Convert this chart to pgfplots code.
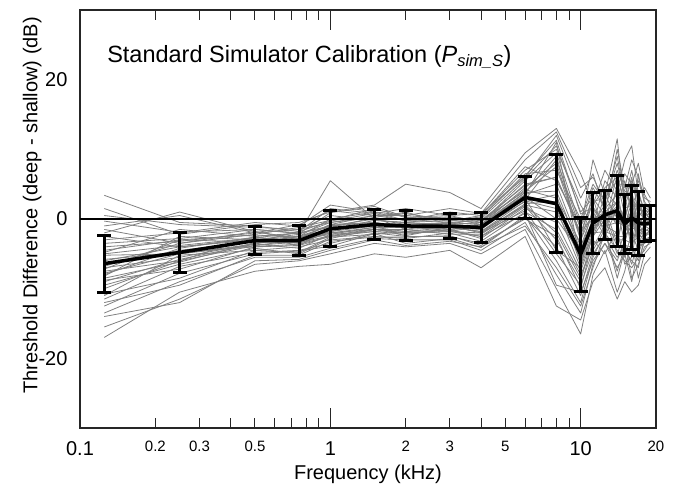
\documentclass[border=0pt]{standalone}
\usepackage{fontspec}
\setmainfont{Liberation Sans}
\usepackage{pgfplots}
\pgfplotsset{compat=1.18}
\usepackage{pgfplotstable}

\pgfplotstableread{
f m sd
0.125 -6.4 4.1
0.25 -4.8 2.9
0.5 -3.1 2.05
0.75 -3.1 2.1
1 -1.4 2.55
1.5 -0.8 2.15
2 -1.0 2.15
3 -1.05 1.8
4 -1.2 2.2
6 3.1 3.05
8 2.2 7.0
10 -5.1 5.3
11.2 -0.6 4.4
12.5 0.6 3.5
14 1.2 5.1
15 -0.7 4.2
16 0.2 4.6
17 -0.6 4.6
18 -0.7 2.6
19 -0.6 2.5
}\meandata

\begin{document}
\begin{tikzpicture}[font=\fontsize{20}{24}\selectfont]
\begin{axis}[
  scale only axis, width=576pt, height=418pt,
  xmode=log, xmin=0.1, xmax=20, ymin=-30, ymax=30,
  axis line style={line width=1.2pt, black!85},
  tick align=inside,
  major tick length=20pt, minor tick length=10pt,
  every tick/.style={line width=1pt, black!85},
  /pgf/number format/assume math mode=true,
  xtick={0.1,1,10}, xticklabels={0.1,1,10},
  xticklabel style={yshift=-10pt},
  minor xtick={0.2,0.3,0.4,0.5,0.6,0.7,0.8,0.9,2,3,4,5,6,7,8,9,20},
  extra x ticks={0.2,0.3,0.5,2,3,5,20},
  extra x tick labels={0.2,0.3,0.5,2,3,5,20},
  extra x tick style={major tick length=0pt, tick label style={font=\fontsize{15}{18}\selectfont}},
  ytick={-20,0,20}, yticklabels={-20,0,20},
  yticklabel style={xshift=-9pt},
  ytick style={draw=none},
  minor ytick={-20,-10,0,10,20},
  xlabel={Frequency (kHz)},
  xlabel style={at={(axis description cs:0.5,-0.110)}, anchor=center},
  ylabel={Threshold Difference (deep - shallow) (dB)},
  ylabel style={at={(axis description cs:-0.083,0.533)}, anchor=center},
  sub/.style={black!50, line width=0.8pt},
  every axis plot/.append style={line join=round},
]
\addplot[sub] coordinates {(0.125,-0.3)(0.25,-1.9)(0.5,-1.5)(0.75,-2.1)(1,0.9)(1.5,1.8)(2,0.3)(3,-0.3)(4,0.3)(6,6.2)(8,11.3)(10,0.7)(11.2,1.7)(12.5,-0.5)(14,6.3)(15,1.9)(16,-2.1)(17,2.9)(18,0.3)(19,1.7)};
\addplot[sub] coordinates {(0.125,-12.5)(0.25,-7.8)(0.5,-5.0)(0.75,-4.6)(1,-3.9)(1.5,-2.1)(2,-3.5)(3,-2.8)(4,-4.1)(6,0.5)(8,-6.0)(10,-12.0)(11.2,-5.5)(12.5,-2.0)(14,-7.5)(15,-4.0)(16,-6.5)(17,-3.0)(18,-3.5)(19,-2.8)};
\addplot[sub] coordinates {(0.125,-4.0)(0.25,-3.2)(0.5,-2.0)(0.75,-1.5)(1,0.5)(1.5,-0.2)(2,-0.5)(3,0.2)(4,-0.8)(6,4.5)(8,8.0)(10,-2.5)(11.2,3.5)(12.5,4.0)(14,2.0)(15,5.5)(16,1.0)(17,-2.0)(18,1.5)(19,0.5)};
\addplot[sub] coordinates {(0.125,-9.5)(0.25,-6.5)(0.5,-4.2)(0.75,-5.0)(1,-2.8)(1.5,-1.5)(2,-2.0)(3,-1.8)(4,-2.5)(6,1.8)(8,-3.0)(10,-9.0)(11.2,-2.0)(12.5,1.5)(14,-3.5)(15,2.0)(16,4.5)(17,-5.0)(18,-2.5)(19,-1.5)};
\addplot[sub] coordinates {(0.125,-7.0)(0.25,-5.5)(0.5,-3.5)(0.75,-2.5)(1,-1.0)(1.5,-0.5)(2,-1.2)(3,-0.8)(4,-1.0)(6,3.5)(8,5.0)(10,-4.0)(11.2,1.0)(12.5,-1.5)(14,4.5)(15,-2.5)(16,-1.0)(17,3.0)(18,-0.5)(19,-1.0)};
\addplot[sub] coordinates {(0.125,3.4)(0.25,-0.5)(0.5,-1.0)(0.75,-1.8)(1,1.5)(1.5,0.8)(2,1.5)(3,0.5)(4,0.8)(6,8.5)(8,12.5)(10,4.5)(11.2,6.0)(12.5,2.5)(14,9.0)(15,3.0)(16,7.0)(17,2.0)(18,1.8)(19,1.0)};
\addplot[sub] coordinates {(0.125,-15.5)(0.25,-11.5)(0.5,-6.5)(0.75,-6.0)(1,-5.0)(1.5,-3.5)(2,-4.0)(3,-3.5)(4,-5.0)(6,-1.5)(8,-10.0)(10,-16.5)(11.2,-8.0)(12.5,-4.5)(14,-10.5)(15,-7.5)(16,-3.0)(17,-8.5)(18,-5.0)(19,-4.0)};
\addplot[sub] coordinates {(0.125,-6.0)(0.25,-4.0)(0.5,-2.8)(0.75,-3.5)(1,-1.8)(1.5,-1.0)(2,-0.8)(3,-1.5)(4,-1.2)(6,2.5)(8,3.5)(10,-6.5)(11.2,-1.5)(12.5,0.8)(14,0.5)(15,-1.0)(16,2.5)(17,-1.5)(18,0.0)(19,-0.8)};
\addplot[sub] coordinates {(0.125,-8.2)(0.25,-2.5)(0.5,-3.0)(0.75,-2.2)(1,-0.5)(1.5,0.2)(2,-1.5)(3,-0.5)(4,-0.2)(6,4.0)(8,7.5)(10,-3.0)(11.2,2.5)(12.5,3.0)(14,5.5)(15,0.5)(16,-3.5)(17,1.5)(18,1.0)(19,-0.2)};
\addplot[sub] coordinates {(0.125,-10.8)(0.25,-8.5)(0.5,-4.5)(0.75,-4.0)(1,-3.0)(1.5,-2.5)(2,-2.8)(3,-2.0)(4,-3.2)(6,1.0)(8,-1.5)(10,-8.0)(11.2,-4.0)(12.5,-1.0)(14,-2.0)(15,-5.5)(16,-2.0)(17,-4.5)(18,-2.0)(19,-2.0)};
\addplot[sub] coordinates {(0.125,-2.0)(0.25,1.0)(0.5,-1.8)(0.75,-2.8)(1,-0.8)(1.5,0.5)(2,0.8)(3,-0.2)(4,-0.5)(6,5.5)(8,9.5)(10,-1.0)(11.2,4.5)(12.5,1.5)(14,7.0)(15,4.0)(16,3.5)(17,5.5)(18,2.5)(19,1.2)};
\addplot[sub] coordinates {(0.125,-5.2)(0.25,-5.0)(0.5,-3.8)(0.75,-3.0)(1,-2.2)(1.5,-1.2)(2,-1.8)(3,-1.2)(4,-1.8)(6,2.0)(8,1.0)(10,-5.5)(11.2,-0.5)(12.5,2.0)(14,-1.0)(15,1.0)(16,-4.5)(17,0.5)(18,-1.5)(19,0.2)};
\addplot[sub] coordinates {(0.125,-13.5)(0.25,-9.0)(0.5,-5.5)(0.75,-5.5)(1,-4.2)(1.5,-2.8)(2,-3.0)(3,-3.0)(4,-4.5)(6,-0.5)(8,-8.0)(10,-13.5)(11.2,-6.5)(12.5,-3.5)(14,-6.0)(15,-3.0)(16,-8.5)(17,-6.5)(18,-4.0)(19,-3.5)};
\addplot[sub] coordinates {(0.125,-3.0)(0.25,-2.0)(0.5,-0.5)(0.75,-1.0)(1,2.0)(1.5,1.0)(2,-0.2)(3,1.0)(4,0.5)(6,7.0)(8,10.0)(10,2.0)(11.2,-1.0)(12.5,5.5)(14,3.0)(15,6.5)(16,5.0)(17,8.0)(18,3.5)(19,2.0)};
\addplot[sub] coordinates {(0.125,-7.5)(0.25,-6.0)(0.5,-2.5)(0.75,-3.8)(1,-1.5)(1.5,-0.8)(2,-0.5)(3,-1.0)(4,-1.5)(6,3.0)(8,-4.5)(10,-7.0)(11.2,0.5)(12.5,-2.5)(14,1.5)(15,-3.5)(16,0.5)(17,-2.5)(18,-1.0)(19,-1.5)};
\addplot[sub] coordinates {(0.125,-1.5)(0.25,-3.5)(0.5,-2.2)(0.75,-1.2)(1,-0.2)(1.5,1.5)(2,0.2)(3,0.5)(4,-0.5)(6,5.0)(8,6.0)(10,-2.0)(11.2,3.0)(12.5,0.5)(14,-4.0)(15,2.5)(16,6.0)(17,1.0)(18,0.5)(19,0.8)};
\addplot[sub] coordinates {(0.125,-11.5)(0.25,-6.8)(0.5,-4.8)(0.75,-4.5)(1,-3.5)(1.5,-2.0)(2,-2.5)(3,-2.5)(4,-3.5)(6,0.0)(8,-2.5)(10,-10.0)(11.2,-3.0)(12.5,-5.0)(14,-1.5)(15,-6.5)(16,-5.5)(17,0.0)(18,-3.0)(19,-2.5)};
\addplot[sub] coordinates {(0.125,-6.5)(0.25,-4.5)(0.5,-3.2)(0.75,-2.8)(1,-0.8)(1.5,-0.5)(2,-1.0)(3,-0.5)(4,-0.8)(6,3.8)(8,4.0)(10,-4.5)(11.2,0.0)(12.5,1.0)(14,2.5)(15,0.0)(16,-0.5)(17,-0.5)(18,0.2)(19,-0.5)};
\addplot[sub] coordinates {(0.125,-4.8)(0.25,-1.5)(0.5,-2.5)(0.75,-2.0)(1,5.5)(1.5,0.0)(2,-0.8)(3,-1.8)(4,-1.0)(6,2.8)(8,8.5)(10,-1.5)(11.2,8.5)(12.5,3.5)(14,11.5)(15,1.5)(16,2.0)(17,4.0)(18,1.0)(19,0.0)};
\addplot[sub] coordinates {(0.125,-9.0)(0.25,-5.8)(0.5,-3.6)(0.75,-4.2)(1,-2.2)(1.5,-1.8)(2,-2.2)(3,-1.5)(4,-2.8)(6,1.5)(8,-0.5)(10,-7.5)(11.2,-2.5)(12.5,0.0)(14,-5.0)(15,-2.0)(16,1.5)(17,-3.5)(18,-1.8)(19,-1.2)};
\addplot[sub] coordinates {(0.125,-8.0)(0.25,-4.2)(0.5,-2.6)(0.75,-3.2)(1,-2.0)(1.5,-1.2)(2,-1.2)(3,-1.0)(4,-2.0)(6,2.2)(8,2.5)(10,-6.0)(11.2,-1.0)(12.5,-0.5)(14,1.0)(15,-1.5)(16,-1.5)(17,-1.0)(18,-0.8)(19,-0.5)};
\addplot[sub] coordinates {(0.125,1.5)(0.25,-2.2)(0.5,-0.8)(0.75,-0.5)(1,1.0)(1.5,2.0)(2,5.0)(3,3.8)(4,1.5)(6,9.5)(8,13.0)(10,6.5)(11.2,2.0)(12.5,7.0)(14,4.0)(15,8.5)(16,10.5)(17,3.5)(18,4.5)(19,3.0)};
\addplot[sub] coordinates {(0.125,-5.8)(0.25,-4.8)(0.5,-4.0)(0.75,-3.6)(1,-2.5)(1.5,-1.5)(2,-1.5)(3,-1.2)(4,-1.5)(6,3.2)(8,0.0)(10,-4.8)(11.2,1.5)(12.5,-1.0)(14,-0.5)(15,-1.0)(16,-2.5)(17,-2.0)(18,-1.0)(19,-0.8)};
\addplot[sub] coordinates {(0.125,-17.0)(0.25,-10.5)(0.5,-7.5)(0.75,-6.8)(1,-6.5)(1.5,-5.0)(2,-5.5)(3,-4.5)(4,-7.0)(6,-2.5)(8,-12.5)(10,-14.5)(11.2,-9.0)(12.5,-7.0)(14,-11.5)(15,-9.0)(16,-10.5)(17,-9.5)(18,-6.5)(19,-5.5)};
\addplot[sub] coordinates {(0.125,-3.5)(0.25,-2.8)(0.5,-1.5)(0.75,-2.0)(1,-1.2)(1.5,0.2)(2,1.0)(3,-0.8)(4,0.2)(6,6.5)(8,7.0)(10,0.0)(11.2,5.0)(12.5,2.5)(14,8.0)(15,3.5)(16,-1.5)(17,6.5)(18,2.0)(19,1.5)};
\addplot[sub] coordinates {(0.125,-10.0)(0.25,-6.0)(0.5,-3.8)(0.75,-3.3)(1,-2.0)(1.5,-1.5)(2,-2.0)(3,-1.8)(4,-2.0)(6,1.2)(8,-5.0)(10,-9.5)(11.2,-4.5)(12.5,-1.5)(14,-8.5)(15,-4.5)(16,-6.0)(17,-7.0)(18,-2.5)(19,-2.0)};
\addplot[sub] coordinates {(0.125,-7.2)(0.25,-3.0)(0.5,-2.3)(0.75,-2.6)(1,-1.5)(1.5,-0.2)(2,-0.5)(3,-0.8)(4,-0.5)(6,4.2)(8,3.0)(10,-3.5)(11.2,-2.0)(12.5,3.5)(14,0.0)(15,0.5)(16,3.0)(17,1.5)(18,0.8)(19,0.5)};
\addplot[sub] coordinates {(0.125,-2.5)(0.25,-4.0)(0.5,-3.0)(0.75,-2.5)(1,0.0)(1.5,1.0)(2,0.5)(3,0.0)(4,0.0)(6,5.8)(8,10.5)(10,1.0)(11.2,3.0)(12.5,-2.5)(14,5.0)(15,5.0)(16,1.0)(17,2.5)(18,-0.5)(19,0.5)};
\addplot[sub] coordinates {(0.125,-14.0)(0.25,-12.0)(0.5,-6.0)(0.75,-5.8)(1,-4.5)(1.5,-3.0)(2,-3.8)(3,-3.2)(4,-4.0)(6,-1.0)(8,-7.0)(10,-12.5)(11.2,-7.0)(12.5,-2.0)(14,-4.5)(15,-6.0)(16,-7.0)(17,-5.5)(18,-4.5)(19,-3.0)};
\addplot[sub] coordinates {(0.125,-5.0)(0.25,-3.8)(0.5,-2.7)(0.75,-2.0)(1,-1.0)(1.5,0.0)(2,0.0)(3,0.3)(4,-0.2)(6,4.8)(8,6.0)(10,-2.0)(11.2,0.5)(12.5,0.0)(14,2.5)(15,-0.5)(16,0.5)(17,1.0)(18,0.0)(19,-0.2)};
\addplot[sub] coordinates {(0.125,-8.8)(0.25,-7.2)(0.5,-4.0)(0.75,-3.8)(1,-2.5)(1.5,-1.8)(2,-1.5)(3,-2.2)(4,-2.2)(6,2.0)(8,-2.0)(10,-8.5)(11.2,-3.5)(12.5,-3.0)(14,-3.0)(15,-3.0)(16,-3.5)(17,-2.5)(18,-2.5)(19,-1.5)};
\addplot[sub] coordinates {(0.125,0.5)(0.25,-0.8)(0.5,-1.2)(0.75,-1.5)(1,-0.5)(1.5,0.5)(2,-0.2)(3,-0.5)(4,-0.8)(6,3.8)(8,9.0)(10,-3.0)(11.2,1.0)(12.5,1.0)(14,-0.5)(15,0.0)(16,4.0)(17,-1.0)(18,0.5)(19,-0.5)};
\addplot[sub] coordinates {(0.125,-6.8)(0.25,-3.5)(0.5,-1.8)(0.75,-3.0)(1,-1.8)(1.5,-0.5)(2,-1.2)(3,-1.5)(4,-0.8)(6,3.5)(8,11.0)(10,-6.0)(11.2,-2.5)(12.5,1.5)(14,3.5)(15,-2.0)(16,0.0)(17,-3.0)(18,-1.2)(19,0.2)};
\addplot[sub] coordinates {(0.125,-11.0)(0.25,-5.2)(0.5,-4.5)(0.75,-4.8)(1,-2.6)(1.5,-2.2)(2,-1.8)(3,-1.6)(4,-2.5)(6,0.8)(8,-9.5)(10,-10.5)(11.2,-6.0)(12.5,-3.5)(14,-7.0)(15,-5.0)(16,-9.0)(17,-4.0)(18,-3.5)(19,-2.5)};
\addplot[sub] coordinates {(0.125,-4.5)(0.25,-3.0)(0.5,-3.3)(0.75,-1.8)(1,-0.3)(1.5,0.8)(2,-0.3)(3,-0.3)(4,0.5)(6,7.5)(8,5.5)(10,-1.0)(11.2,2.0)(12.5,4.5)(14,6.0)(15,2.5)(16,5.5)(17,3.5)(18,1.2)(19,1.0)};
\addplot[sub] coordinates {(0.125,-8.5)(0.25,-6.2)(0.5,-3.4)(0.75,-3.4)(1,-2.4)(1.5,-1.4)(2,-2.4)(3,-1.2)(4,-1.8)(6,2.6)(8,1.5)(10,-7.0)(11.2,-2.0)(12.5,-1.8)(14,-2.5)(15,-2.5)(16,-1.0)(17,-1.5)(18,-1.5)(19,-1.8)};
\addplot[sub] coordinates {(0.125,-12.0)(0.25,-9.5)(0.5,-5.2)(0.75,-5.2)(1,-3.2)(1.5,-2.6)(2,-2.6)(3,-2.4)(4,-3.8)(6,0.2)(8,-4.0)(10,-11.0)(11.2,-5.0)(12.5,-2.5)(14,-5.5)(15,-3.8)(16,-4.0)(17,-6.0)(18,-3.2)(19,-3.2)};
\addplot[sub] coordinates {(0.125,-1.0)(0.25,0.5)(0.5,-2.0)(0.75,-0.8)(1,1.2)(1.5,0.5)(2,0.5)(3,1.5)(4,0.8)(6,6.0)(8,12.0)(10,3.0)(11.2,6.5)(12.5,1.0)(14,10.0)(15,4.5)(16,8.5)(17,6.0)(18,3.0)(19,2.5)};
\addplot[sub] coordinates {(0.125,-7.8)(0.25,-5.0)(0.5,-3.6)(0.75,-2.4)(1,-1.6)(1.5,-1.0)(2,-0.7)(3,-0.6)(4,-1.4)(6,3.0)(8,2.0)(10,-5.0)(11.2,-0.8)(12.5,0.4)(14,1.8)(15,-0.8)(16,1.2)(17,-0.2)(18,-0.6)(19,-0.9)};
\addplot[black, line width=1.2pt, forget plot] coordinates {(0.1,0) (20,0)};
\addplot[black, line width=3.5pt,
  error bars/.cd, y dir=both, y explicit,
  error bar style={line width=3pt, black},
  error mark options={rotate=90, black, mark size=7pt, line width=3pt}]
  table[x=f, y=m, y error=sd] {\meandata};
\node[anchor=base west, inner sep=0pt, font=\fontsize{23.5}{28}\selectfont] at (rel axis cs:0.047,0.874)
  {Standard Simulator Calibration (\textit{P}\textsubscript{\textit{sim\_S}})};
\end{axis}
\path (current axis.south west) ++(-80pt,-57pt) coordinate (bl);
\path (current axis.north east) ++(22pt,10pt) coordinate (tr);
\path (bl) rectangle (tr);
\end{tikzpicture}
\end{document}
